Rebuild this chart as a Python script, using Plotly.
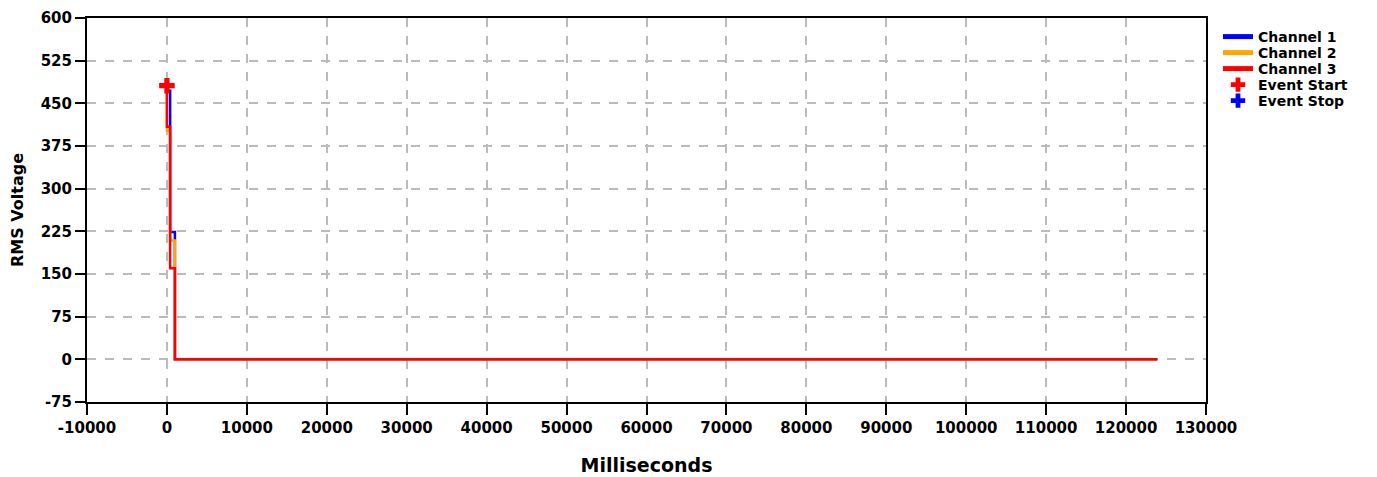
import plotly.graph_objects as go

# Data (milliseconds, RMS volts)
t_ch = [0, 400, 1000, 123900]
ch1 = [483, 472, 224, 0]
ch2 = [483, 402, 209, 0]
ch3 = [483, 409, 160, 0]
event_start_t = [0]
event_start_v = [481]
event_stop_t = [0]
event_stop_v = [481]

x_ticks = list(range(-10000, 130001, 10000))
y_ticks = list(range(-75, 601, 75))

FONT = "DejaVu Sans, Verdana, sans-serif"
W, H = 1377, 477
OFF = 8  # page body margin
L, R, T, B = 87 - OFF, 171 + OFF, 18 - OFF, 75 + OFF

def bold(v):
    return "<b>" + str(v) + "</b>"

fig = go.Figure()
# stop marker drawn first (hidden under start marker); one legend per entry for tight spacing
fig.add_trace(go.Scatter(x=event_stop_t, y=event_stop_v, mode="markers", name="<b>Event Stop</b>",
                         marker=dict(symbol="cross", color="#0000ff", size=7), legend="legend5"))
fig.add_trace(go.Scatter(x=t_ch, y=ch1, mode="lines", name="<b>Channel 1</b>", line_shape="vh",
                         line=dict(color="#0000ff", width=2.5), legend="legend"))
fig.add_trace(go.Scatter(x=t_ch, y=ch2, mode="lines", name="<b>Channel 2</b>", line_shape="vh",
                         line=dict(color="#ffa500", width=2.5), legend="legend2"))
fig.add_trace(go.Scatter(x=t_ch, y=ch3, mode="lines", name="<b>Channel 3</b>", line_shape="vh",
                         line=dict(color="#ff0000", width=2.5), legend="legend3"))
fig.add_trace(go.Scatter(x=event_start_t, y=event_start_v, mode="markers", name="<b>Event Start</b>",
                         marker=dict(symbol="cross", color="#ff0000", size=13), legend="legend4"))

axis_common = dict(
    showline=True, linecolor="black", linewidth=2, mirror=True,
    ticks="outside", tickwidth=2, tickcolor="black",
    showgrid=True, gridcolor="#bbbbbb", griddash="dash", gridwidth=1.5,
    zeroline=False, automargin=False, tickmode="array",
    tickfont=dict(family=FONT, size=15, color="black"),
)

legend_x = 1218 - OFF
legend_ys = [37, 53, 69, 85, 101]
legends = {}
for i, yy in enumerate(legend_ys):
    key = "legend" if i == 0 else "legend%d" % (i + 1)
    legends[key] = dict(
        x=legend_x / W, xref="container", xanchor="left",
        y=1 - (yy - OFF) / H, yref="container", yanchor="middle",
        font=dict(family=FONT, size=14, color="black"),
        bgcolor="rgba(0,0,0,0)", itemwidth=30, itemsizing="constant",
    )

fig.update_layout(
    width=W, height=H,
    margin=dict(l=L, r=R, t=T, b=B),
    paper_bgcolor="white", plot_bgcolor="white",
    font=dict(family=FONT, color="black"),
    xaxis=dict(range=[-10000, 130000], tickvals=x_ticks, ticktext=[bold(v) for v in x_ticks],
               ticklen=11,
               title=dict(text="<b>Milliseconds</b>", font=dict(family=FONT, size=19), standoff=23),
               **axis_common),
    yaxis=dict(range=[-75, 600], tickvals=y_ticks, ticktext=[bold(v) for v in y_ticks],
               ticklen=10,
               title=dict(text="<b>RMS Voltage</b>", font=dict(family=FONT, size=16), standoff=20),
               **axis_common),
    showlegend=True,
    **legends,
)

fig.write_html("out.html")
